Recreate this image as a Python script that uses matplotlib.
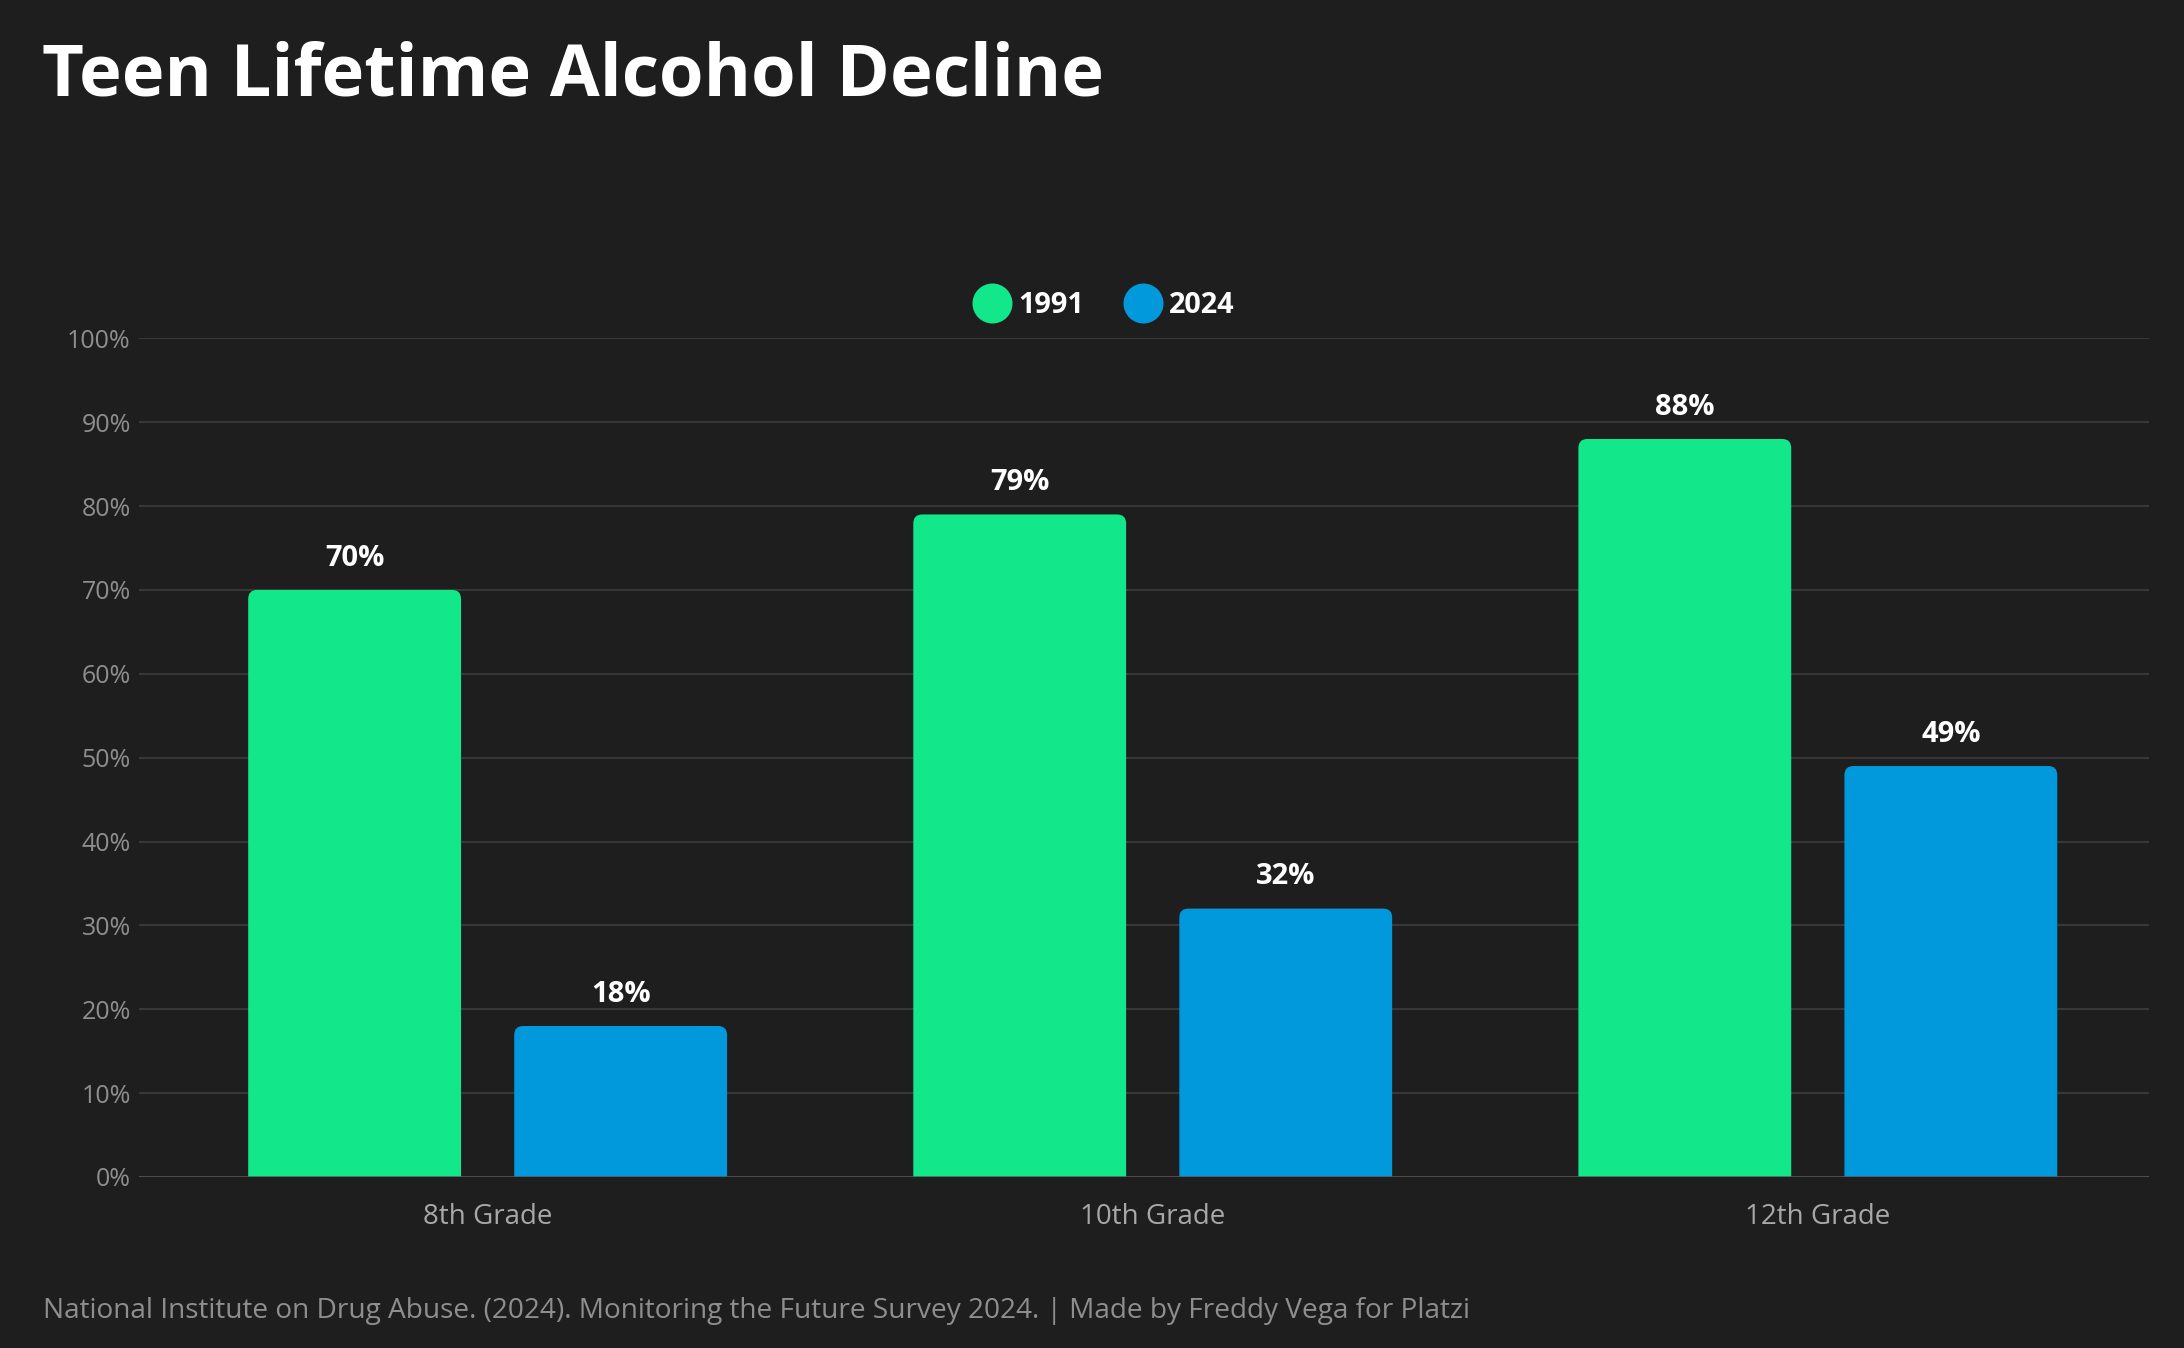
import numpy as np
import matplotlib
matplotlib.use("Agg")
import matplotlib.pyplot as plt
from matplotlib.patches import FancyBboxPatch
from matplotlib.lines import Line2D

# ---------- data --------------------------------------------------------
grades = ["8th Grade", "10th Grade", "12th Grade"]
years = ["1991", "2024"]
pct_1991 = [70, 79, 88]
pct_2024 = [18, 32, 49]
y_ticks = [0, 10, 20, 30, 40, 50, 60, 70, 80, 90, 100]

TITLE = "Teen Lifetime Alcohol Decline"
SOURCE = ("National Institute on Drug Abuse. (2024). Monitoring the Future Survey 2024."
          " | Made by Freddy Vega for Platzi")

# ---------- style -------------------------------------------------------
BG = "#1e1e1e"
GREEN = "#12e88a"
BLUE = "#0299dc"
GRID = "#383838"
TICK = "#8e8e8e"
XTICK = "#a8a8a8"
FONT = ["Open Sans", "DejaVu Sans"]

plt.rcParams["font.family"] = FONT

fig = plt.figure(figsize=(10.92, 6.74), dpi=200, facecolor=BG)
ax = fig.add_axes([0.0637, 0.1269, 0.9203, 0.6221], facecolor=BG)

x = np.arange(len(grades))
off, width = 0.2, 0.32
bars_a = ax.bar(x - off, pct_1991, width, color=GREEN, zorder=3)
bars_b = ax.bar(x + off, pct_2024, width, color=BLUE, zorder=3)

ax.set_xlim(-0.524, 2.498)
ax.set_ylim(0, 100)
ax.set_yticks(y_ticks)
ax.set_yticklabels([f"{t}%" for t in y_ticks])
ax.set_xticks(x)
ax.set_xticklabels(grades)

ax.grid(axis="y", color=GRID, lw=0.75, zorder=0)
ax.axhline(0, color="#555555", lw=0.9, zorder=4)
for s in ax.spines.values():
    s.set_visible(False)
ax.tick_params(axis="y", length=0, pad=3, labelsize=9, labelcolor=TICK)
ax.tick_params(axis="x", length=0, pad=9.5, labelsize=10, labelcolor=XTICK)

# rounded tops: swap each rectangle for a rounded box that dips below 0
fig.canvas.draw()
p0 = ax.transData.transform((0, 0))
p1 = ax.transData.transform((1, 1))
px_x, px_y = p1[0] - p0[0], p1[1] - p0[1]
r_px = 9
for bars in (bars_a, bars_b):
    for rect in bars:
        bx, bw, bh = rect.get_x(), rect.get_width(), rect.get_height()
        dip = 2 * r_px / px_y
        box = FancyBboxPatch((bx, -dip), bw, bh + dip,
                             boxstyle=f"round,pad=0,rounding_size={r_px / px_x}",
                             mutation_aspect=px_x / px_y,
                             facecolor=rect.get_facecolor(), edgecolor="none",
                             zorder=3)
        ax.add_patch(box)
        rect.set_visible(False)
        ax.annotate(f"{bh:.0f}%", (bx + bw / 2, bh), xytext=(0, 8.7),
                    textcoords="offset points", ha="center", va="baseline",
                    color="white", fontsize=10.5, fontweight="bold",
                    annotation_clip=False)

handles = [Line2D([], [], ls="none", marker="o", markersize=14.4,
                  markerfacecolor=c, markeredgecolor="none") for c in (GREEN, BLUE)]
leg = fig.legend(handles, years, loc="center", bbox_to_anchor=(0.5058, 0.7735),
                 ncol=2, frameon=False, handlelength=1.2, handletextpad=0.3,
                 columnspacing=1.45, prop={"family": FONT, "size": 10.4,
                                           "weight": "bold"})
for t in leg.get_texts():
    t.set_color("white")

fig.text(0.0192, 0.9295, TITLE, color="white", fontsize=26,
         fontweight="bold", ha="left", va="baseline")
fig.text(0.0197, 0.0225, SOURCE, color=TICK, fontsize=10.1,
         ha="left", va="baseline")

fig.savefig("out.png", dpi=200, facecolor=BG)
